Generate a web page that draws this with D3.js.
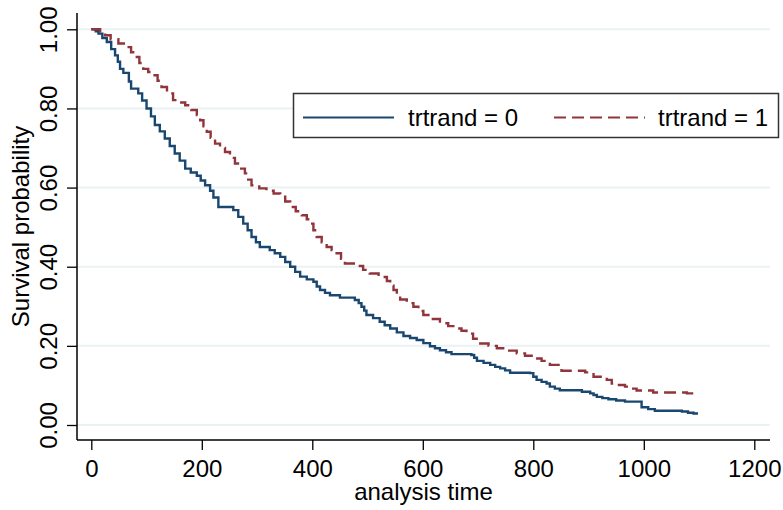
<!DOCTYPE html>
<html>
<head>
<meta charset="utf-8">
<script src="https://cdn.jsdelivr.net/npm/d3@7"></script>
<style>
  html, body { margin: 0; padding: 0; background: #fff; }
  svg { display: block; font-family: "Liberation Sans", Arial, sans-serif; }
</style>
</head>
<body>
<svg id="chart" width="783" height="510"></svg>
<script>
// ---- data ----
const xTicks = [0, 200, 400, 600, 800, 1000, 1200];
const yTicks = [0, 0.2, 0.4, 0.6, 0.8, 1.0];
const seriesNames = ["trtrand = 0", "trtrand = 1"];

const time0 = [0, 8, 13, 20, 28, 36, 43, 48, 52, 58, 68, 72, 85, 92, 100, 108, 115, 124, 133, 142, 151, 160, 170, 180, 191, 198, 206, 215, 221, 230, 257, 266, 275, 283, 290, 298, 305, 323, 332, 342, 351, 360, 369, 378, 390, 402, 408, 414, 423, 432, 450, 477, 484, 489, 494, 498, 510, 522, 531, 541, 553, 565, 577, 589, 601, 613, 622, 631, 642, 652, 688, 693, 698, 710, 722, 731, 740, 749, 758, 794, 800, 806, 815, 824, 830, 839, 848, 888, 903, 909, 915, 925, 936, 950, 966, 996, 1008, 1020, 1069, 1080, 1090, 1096];
const surv0 = [1.000, 0.995, 0.989, 0.978, 0.968, 0.950, 0.934, 0.918, 0.900, 0.890, 0.868, 0.850, 0.838, 0.820, 0.800, 0.780, 0.758, 0.742, 0.724, 0.705, 0.686, 0.668, 0.648, 0.638, 0.630, 0.618, 0.606, 0.592, 0.575, 0.551, 0.543, 0.526, 0.509, 0.492, 0.475, 0.462, 0.450, 0.442, 0.434, 0.425, 0.412, 0.400, 0.387, 0.375, 0.368, 0.362, 0.350, 0.341, 0.334, 0.328, 0.322, 0.316, 0.308, 0.299, 0.289, 0.278, 0.270, 0.261, 0.252, 0.244, 0.234, 0.225, 0.220, 0.215, 0.207, 0.199, 0.194, 0.189, 0.184, 0.179, 0.177, 0.170, 0.162, 0.157, 0.152, 0.147, 0.143, 0.138, 0.132, 0.131, 0.122, 0.114, 0.109, 0.105, 0.097, 0.092, 0.088, 0.084, 0.080, 0.076, 0.071, 0.068, 0.065, 0.062, 0.059, 0.045, 0.040, 0.036, 0.034, 0.031, 0.029, 0.026];

const time1 = [0, 16, 25, 35, 49, 64, 72, 79, 87, 94, 103, 112, 120, 127, 137, 148, 160, 170, 181, 191, 197, 203, 209, 216, 224, 233, 242, 251, 260, 269, 278, 284, 290, 304, 317, 330, 342, 351, 360, 370, 381, 390, 396, 402, 408, 417, 426, 435, 444, 452, 459, 480, 492, 504, 520, 535, 541, 547, 553, 559, 571, 583, 592, 601, 616, 631, 646, 661, 670, 679, 691, 704, 719, 734, 752, 770, 785, 800, 815, 830, 851, 894, 909, 933, 942, 955, 966, 976, 987, 1017, 1078, 1096];
const surv1 = [1.000, 0.995, 0.985, 0.975, 0.964, 0.955, 0.942, 0.930, 0.915, 0.900, 0.892, 0.884, 0.870, 0.854, 0.838, 0.821, 0.815, 0.808, 0.796, 0.783, 0.770, 0.755, 0.741, 0.726, 0.711, 0.700, 0.690, 0.675, 0.661, 0.648, 0.636, 0.620, 0.606, 0.598, 0.592, 0.585, 0.577, 0.565, 0.551, 0.540, 0.530, 0.520, 0.509, 0.492, 0.475, 0.462, 0.450, 0.442, 0.434, 0.420, 0.408, 0.402, 0.392, 0.383, 0.374, 0.364, 0.352, 0.341, 0.330, 0.317, 0.308, 0.299, 0.288, 0.278, 0.268, 0.257, 0.250, 0.244, 0.238, 0.231, 0.218, 0.206, 0.200, 0.194, 0.188, 0.181, 0.175, 0.168, 0.162, 0.152, 0.137, 0.133, 0.122, 0.114, 0.105, 0.101, 0.097, 0.092, 0.087, 0.082, 0.080, 0.076];

// ---- layout ----
const svg = d3.select("#chart");
const FS = 24;
const x = d3.scaleLinear().domain([0, 1200]).range([91.3, 754.3]);
const y = d3.scaleLinear().domain([0, 1]).range([425, 29.3]);
const plotLeft = 77, plotRight = 770, plotTop = 13, plotBottom = 440;
const navy = "#1a476f", maroon = "#90353b", gridCol = "#eaf2f3";

// gridlines
svg.append("g").selectAll("line").data(yTicks).join("line")
  .attr("x1", plotLeft).attr("x2", plotRight)
  .attr("y1", d => y(d)).attr("y2", d => y(d))
  .attr("stroke", gridCol).attr("stroke-width", 2);

// y axis
const yAxis = d3.axisLeft(y).tickValues(yTicks).tickSize(10).tickPadding(0)
  .tickFormat(d3.format(".2f"));
const gy = svg.append("g").attr("transform", `translate(${plotLeft},0)`).call(yAxis);
gy.select(".domain").remove();
gy.selectAll(".tick line").attr("stroke", "#000").attr("stroke-width", 1.3);
gy.selectAll(".tick text")
  .attr("x", 0).attr("dy", null)
  .attr("transform", "translate(-20,0) rotate(-90)")
  .attr("text-anchor", "middle")
  .attr("font-size", FS).attr("fill", "#000")
  .attr("font-family", "Liberation Sans, Arial, sans-serif");
svg.append("line").attr("x1", plotLeft).attr("x2", plotLeft)
  .attr("y1", plotTop).attr("y2", plotBottom)
  .attr("stroke", "#000").attr("stroke-width", 1.5);

// x axis
const xAxis = d3.axisBottom(x).tickValues(xTicks).tickSize(10).tickPadding(0)
  .tickFormat(d3.format("d"));
const gx = svg.append("g").attr("transform", `translate(0,${plotBottom})`).call(xAxis);
gx.select(".domain").remove();
gx.selectAll(".tick line").attr("stroke", "#000").attr("stroke-width", 1.3);
gx.selectAll(".tick text")
  .attr("y", 37).attr("dy", null)
  .attr("font-size", FS).attr("fill", "#000")
  .attr("font-family", "Liberation Sans, Arial, sans-serif");
svg.append("line").attr("x1", plotLeft).attr("x2", plotRight)
  .attr("y1", plotBottom).attr("y2", plotBottom)
  .attr("stroke", "#000").attr("stroke-width", 1.5);

// axis titles
svg.append("text")
  .attr("x", (plotLeft + plotRight) / 2).attr("y", 500)
  .attr("text-anchor", "middle").attr("font-size", FS).attr("fill", "#000")
  .text("analysis time");
svg.append("text")
  .attr("transform", `translate(29,${(plotTop + plotBottom) / 2}) rotate(-90)`)
  .attr("text-anchor", "middle").attr("font-size", FS).attr("fill", "#000")
  .text("Survival probability");

// curves
const line = d3.line().x(d => x(d[0])).y(d => y(d[1])).curve(d3.curveStepAfter);
const data0 = d3.zip(time0, surv0);
const data1 = d3.zip(time1, surv1);
svg.append("path").datum(data0).attr("d", line)
  .attr("fill", "none").attr("stroke", navy).attr("stroke-width", 2.4);
svg.append("path").datum(data1).attr("d", line)
  .attr("fill", "none").attr("stroke", maroon).attr("stroke-width", 2.4)
  .attr("stroke-dasharray", "12,6");

// legend
const lg = svg.append("g");
lg.append("rect").attr("x", 293.5).attr("y", 93.5).attr("width", 485).attr("height", 44)
  .attr("fill", "#fff").attr("stroke", "#333").attr("stroke-width", 1.5);
const legendItems = [
  { name: seriesNames[0], color: navy, dash: null, lx: 303, tx: 408 },
  { name: seriesNames[1], color: maroon, dash: "12,6", lx: 554, tx: 658 }
];
legendItems.forEach(it => {
  lg.append("line").attr("x1", it.lx).attr("x2", it.lx + 91)
    .attr("y1", 117.5).attr("y2", 117.5)
    .attr("stroke", it.color).attr("stroke-width", 2)
    .attr("stroke-dasharray", it.dash);
  lg.append("text").attr("x", it.tx).attr("y", 125.5)
    .attr("font-size", FS).attr("fill", "#000").text(it.name);
});
</script>
</body>
</html>
